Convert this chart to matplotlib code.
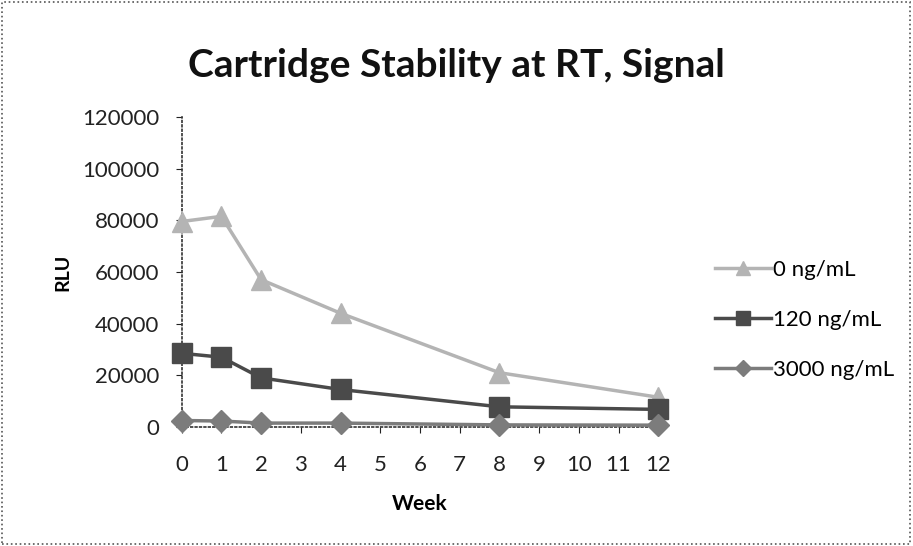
import numpy as np
import matplotlib
matplotlib.use('Agg')
import matplotlib.pyplot as plt
from matplotlib.patches import Rectangle

# data
weeks = [0, 1, 2, 4, 8, 12]
rlu_0 = [79500, 81500, 57000, 44000, 21000, 11500]
rlu_120 = [28500, 27000, 19000, 14500, 7800, 6800]
rlu_3000 = [2500, 2300, 1500, 1500, 800, 700]
series_names = ['0 ng/mL', '120 ng/mL', '3000 ng/mL']
xticks = list(range(0, 13))
yticks = [0, 20000, 40000, 60000, 80000, 100000, 120000]

plt.rcParams['font.family'] = ['Lato', 'DejaVu Sans']

fig = plt.figure(figsize=(9.13, 5.46), dpi=100)
ax = fig.add_axes([0.199, 0.218, 0.522, 0.568])

# outer dotted frame
fig.patches.append(Rectangle((0.002, 0.003), 0.995, 0.994, transform=fig.transFigure,
	fill=False, linestyle=':', linewidth=1.2, edgecolor='#555555'))

ax.plot(weeks, rlu_0, color='#b4b4b4', linewidth=2.5, marker='^', markersize=15,
	clip_on=False, label=series_names[0], zorder=3)
ax.plot(weeks, rlu_120, color='#4a4a4a', linewidth=2.5, marker='s', markersize=14,
	clip_on=False, label=series_names[1], zorder=4)
ax.plot(weeks, rlu_3000, color='#7c7c7c', linewidth=2.5, marker='D', markersize=11,
	clip_on=False, label=series_names[2], zorder=5)

ax.set_xlim(0, 12)
ax.set_ylim(0, 120000)
ax.set_xticks(xticks)
ax.set_yticks(yticks)
ax.tick_params(axis='both', labelsize=16, colors='#222222', length=4, width=0.8,
	direction='out')
ax.tick_params(axis='y', pad=12)
ax.tick_params(axis='x', pad=16)

for side in ['top', 'right']:
	ax.spines[side].set_visible(False)
for side in ['left', 'bottom']:
	ax.spines[side].set_linestyle(':')
	ax.spines[side].set_color('#333333')
	ax.spines[side].set_linewidth(1.2)

ax.set_xlabel('Week', fontsize=15, fontweight='bold', labelpad=14)
ax.set_ylabel('RLU', fontsize=14, fontweight='bold', labelpad=8)

fig.text(0.5, 0.88, 'Cartridge Stability at RT, Signal', fontsize=28,
	fontweight='bold', ha='center', va='center', color='#111111')

ax.legend(loc='center left', bbox_to_anchor=(715/913.0, 1-320/546.0),
	bbox_transform=fig.transFigure, frameon=False, borderaxespad=0, borderpad=0,
	fontsize=16, handlelength=2.5, handletextpad=0.1, labelspacing=1.35,
	markerscale=0.7)

plt.savefig('out.png', dpi=100)
